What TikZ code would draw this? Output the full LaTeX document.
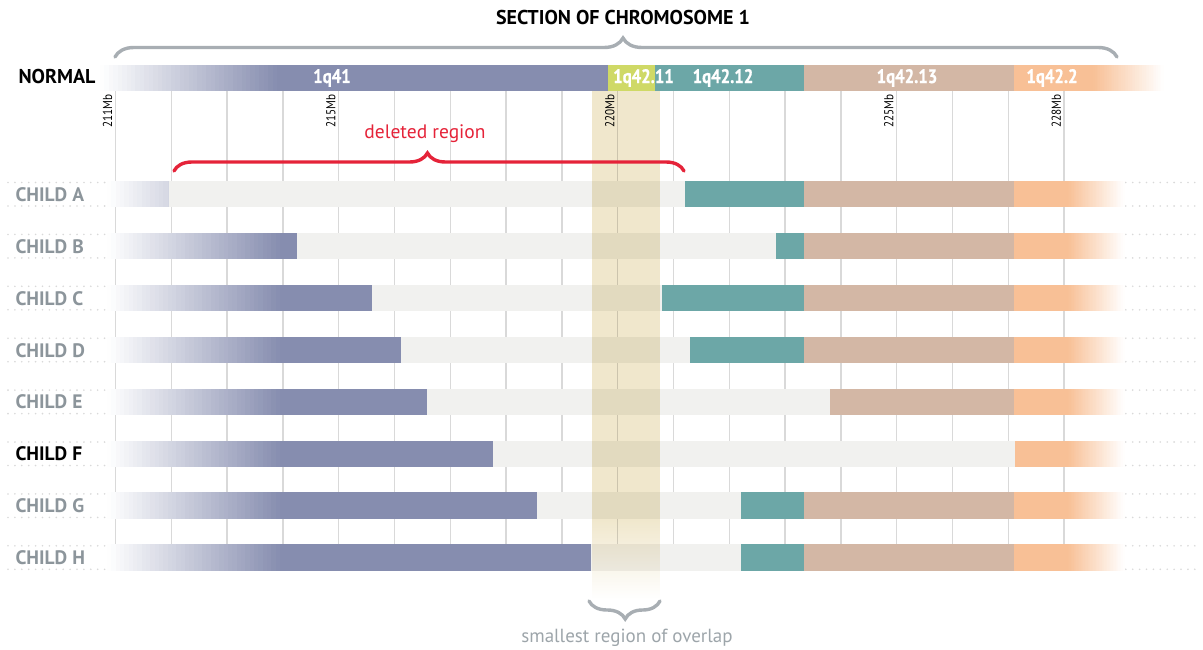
\documentclass[tikz,border=0pt]{standalone}
\usepackage{fontspec}
\setmainfont{PT Sans}
\newfontfamily\condfont[FakeStretch=0.86]{PT Sans}
\newfontfamily\condbold[FakeStretch=0.86,FakeBold=0.8]{PT Sans Bold}
\usetikzlibrary{decorations.pathreplacing}
\definecolor{lila}{HTML}{868DAF}
\definecolor{zold}{HTML}{CFD966}
\definecolor{kek}{HTML}{6CA7A7}
\definecolor{barna}{HTML}{D3B7A5}
\definecolor{narancs}{HTML}{F8C096}
\definecolor{szurke}{HTML}{F1F1EF}
\definecolor{savc}{HTML}{F0E7CC}
\definecolor{racs}{HTML}{D9D9D9}
\definecolor{cimke}{HTML}{8C959B}
\definecolor{kapocs}{HTML}{A8AEB3}
\definecolor{piros}{HTML}{E52339}
% colour ramp in thin slices: x0, x1, top, bottom, from, to
\newcommand{\atmenet}[6]{%
  \foreach \k in {0,...,39} {
    \pgfmathsetmacro{\xa}{#1+(#2-#1)*\k/40}
    \pgfmathsetmacro{\xb}{#1+(#2-#1)*(\k+1)/40+0.5}
    \pgfmathtruncatemacro{\pc}{100*(\k+0.5)/40}
    \fill[#6!\pc!#5] (\xa,#3) rectangle (\xb,#4);
  }}
\tikzset{
  gyerek/.style={anchor=west,font=\bfseries\fontsize{19.5}{22}\selectfont},
  sav/.style={text=white,font=\condbold\fontsize{19.5}{22}\selectfont},
  jel/.style={rotate=90,anchor=south east,inner sep=1.5pt,font=\condfont\fontsize{13}{14}\selectfont},
  kap/.style={decorate,line width=3.4pt,line cap=round},
  pont/.style={racs,line width=1.8pt,dash pattern=on 0pt off 6.9pt,line cap=round},
}

\begin{document}
\begin{tikzpicture}[x=1pt,y=-1pt]
  \useasboundingbox (0,0) rectangle (1203,650);
  % dotted guide lines of the rows
  \foreach \i in {0,...,7} {
    \draw[pont] (8,182.5+51.9*\i) -- (1196,182.5+51.9*\i);
    \draw[pont] (8,206+51.9*\i) -- (1196,206+51.9*\i);
  }
  % Mb grid
  \foreach \m in {211,...,228}
    \draw[racs,line width=1.4pt] (115.4+55.8*\m-55.8*211,91) -- (115.4+55.8*\m-55.8*211,544);
  % normal chromosome
  \atmenet{100}{277}{65}{91}{white}{lila}
  \fill[lila] (277,65) rectangle (608,91);
  \fill[zold] (608,65) rectangle (655,91);
  \fill[kek] (655,65) rectangle (804,91);
  \fill[barna] (804,65) rectangle (1014,91);
  \fill[narancs] (1014,65) rectangle (1093,91);
  \atmenet{1093}{1163}{65}{91}{narancs}{white}
  \node[sav] (q41) at (332,78) {1q41};
  \node[sav,anchor=west,inner sep=0pt] (q4211) at (613,78) {1q42.11};
  \node[sav] (q4212) at (723,78) {1q42.12};
  \node[sav] (q4213) at (907,78) {1q42.13};
  \node[sav] (q422) at (1052,78) {1q42.2};
  \node[anchor=west,font=\bfseries\fontsize{20}{22}\selectfont] (normal) at (15,77) {NORMAL};
  % children
  \foreach \nm/\p/\g/\c [count=\i from 0] in {A/169/685/cimke, B/297/776/cimke,
      C/372/662/cimke, D/401/690/cimke, E/427/830/cimke, F/493/1015/black,
      G/537/741/cimke, H/591/741/cimke} {
    \pgfmathsetmacro{\yt}{181+51.9*\i}
    \pgfmathsetmacro{\yb}{\yt+26.5}
    \pgfmathsetmacro{\pe}{max(\p,280)}
    \fill[kek] (655,\yt) rectangle (804,\yb);
    \fill[barna] (804,\yt) rectangle (1014,\yb);
    \fill[narancs] (1014,\yt) rectangle (1068,\yb);
    \atmenet{1068}{1124}{\yt}{\yb}{narancs}{white}
    \begin{scope}
      \clip (107,\yt) rectangle (\p,\yb);
      \atmenet{107}{280}{\yt}{\yb}{white}{lila}
    \end{scope}
    \fill[lila] (280,\yt) rectangle (\pe,\yb);
    \fill[szurke] (\p,\yt) rectangle (\g,\yb);
    \node[gyerek,text=\c] (child\nm) at (12,\yt+13.5) {CHILD \nm};
  }
  % smallest region of overlap
  \begin{scope}[blend mode=multiply]
    \fill[savc] (592,91) rectangle (660,520);
    \foreach \k in {0,...,79} {
      \pgfmathtruncatemacro{\pc}{100-100*(\k+0.5)/80}
      \fill[savc!\pc!white] (592,520+\k) rectangle (660,521+\k);
    }
  \end{scope}
  % Mb labels
  \foreach \m in {211,215,220,225,228}
    \node[jel] (mb\m) at (114+55.8*\m-55.8*211,93) {\m Mb};
  % braces
  \node[font=\bfseries\fontsize{20}{22}\selectfont] (cim) at (623,18) {SECTION OF CHROMOSOME 1};
  \coordinate (fbal) at (115,57);
  \coordinate (fjobb) at (1117,57);
  \draw[kap,kapocs,decoration={brace,amplitude=19pt,aspect=0.507}] (fbal) -- (fjobb);
  \coordinate (pbal) at (174,171);
  \coordinate (pjobb) at (684,171);
  \draw[kap,piros,decoration={brace,amplitude=18pt,aspect=0.497}] (pbal) -- (pjobb);
  \node[text=piros,font=\fontsize{19.5}{22}\selectfont] (torolt) at (425,134) {deleted region};
  \coordinate (abal) at (589,601);
  \coordinate (ajobb) at (660,601);
  \draw[kap,kapocs,decoration={brace,amplitude=18pt,aspect=0.49}] (ajobb) -- (abal);
  \node[text=cimke!85,font=\fontsize{19}{22}\selectfont] (atfed) at (627,638) {smallest region of overlap};
\end{tikzpicture}
\end{document}
